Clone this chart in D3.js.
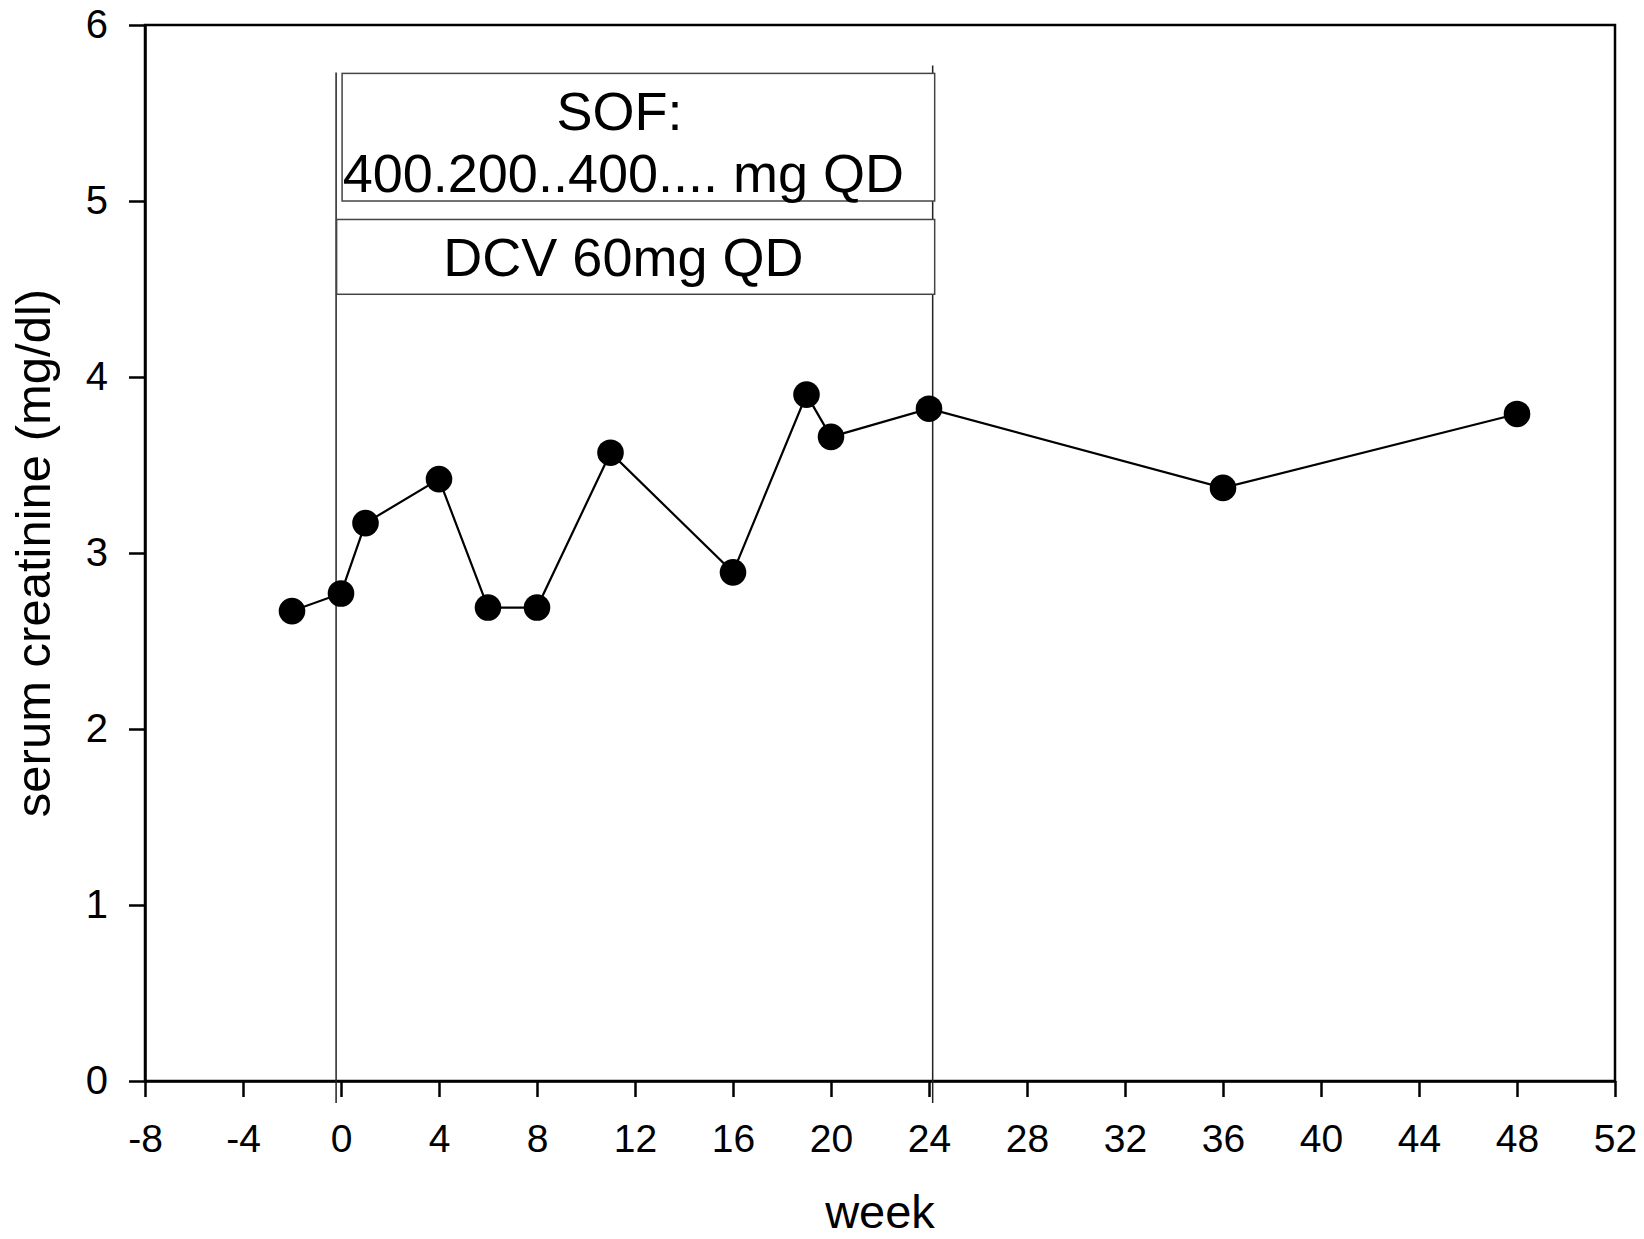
<!DOCTYPE html>
<html>
<head>
<meta charset="utf-8">
<script src="https://cdn.jsdelivr.net/npm/d3@7"></script>
<style>
  body { margin: 0; background: #fff; }
  text { font-family: "Liberation Sans", Arial, sans-serif; fill: #000; }
</style>
</head>
<body>
<div id="chart"></div>
<script>
// data
var weeks = [-2, 0, 1, 4, 6, 8, 11, 16, 19, 20, 24, 36, 48];
var creatinine = [2.67, 2.77, 3.17, 3.42, 2.69, 2.69, 3.57, 2.89, 3.90, 3.66, 3.82, 3.37, 3.79];
var xTicks = [-8, -4, 0, 4, 8, 12, 16, 20, 24, 28, 32, 36, 40, 44, 48, 52];
var yTicks = [0, 1, 2, 3, 4, 5, 6];
var treatment = [-0.2, 24.15];   // start / end of therapy (weeks)
var sofLabel = ["SOF:", "400.200..400.... mg QD"];
var dcvLabel = ["DCV 60mg QD"];

var margin = {top: 25, right: 29, bottom: 158, left: 145},
    width = 1644 - margin.left - margin.right,
    height = 1239 - margin.top - margin.bottom;

var svg = d3.select("#chart")
  .append("svg")
    .attr("width", 1644)
    .attr("height", 1239)
  .append("g")
    .attr("transform", "translate(" + margin.left + "," + margin.top + ")");

var x = d3.scaleLinear().domain([-8, 52]).range([0, width]);
var y = d3.scaleLinear().domain([0, 6]).range([height, 0]);

// frame
svg.append("rect")
  .attr("x", 0).attr("y", 0)
  .attr("width", width).attr("height", height)
  .style("fill", "none")
  .style("stroke", "#000")
  .style("stroke-width", 2.5);

// axes (plain hyphen for negatives, like the original)
var fmt = function(d) { return String(d); };
var xAxis = svg.append("g")
  .attr("transform", "translate(0," + height + ")")
  .call(d3.axisBottom(x).tickValues(xTicks).tickFormat(fmt)
    .tickSize(16).tickSizeOuter(0).tickPadding(27));
var yAxis = svg.append("g")
  .call(d3.axisLeft(y).tickValues(yTicks).tickFormat(fmt)
    .tickSize(16).tickSizeOuter(0).tickPadding(21));

[xAxis, yAxis].forEach(function(a) {
  a.selectAll("path.domain").style("stroke", "#000").style("stroke-width", 2.5);
  a.selectAll(".tick line").style("stroke", "#000").style("stroke-width", 2.5);
  a.selectAll(".tick text")
    .style("font-family", "'Liberation Sans', Arial, sans-serif")
    .style("font-size", "39px")
    .style("fill", "#000");
});
yAxis.selectAll(".tick text").style("font-size", "40px");

// treatment period lines
svg.append("g")
  .selectAll("line")
  .data(treatment)
  .enter()
  .append("line")
    .attr("x1", function(d) { return x(d); })
    .attr("x2", function(d) { return x(d); })
    .attr("y1", function(d, i) { return i === 0 ? y(5.73) : y(5.77); })
    .attr("y2", height + 22)
    .style("stroke", "#222")
    .style("stroke-width", 1.5);

// therapy boxes
var x0 = x(treatment[0]), x1 = x(treatment[1]);
svg.append("rect")
  .attr("x", x0 + 6).attr("y", y(5.725))
  .attr("width", x1 - x0 - 4).attr("height", y(5.0) - y(5.725))
  .style("fill", "#fff").style("stroke", "#444").style("stroke-width", 1.5);
svg.append("rect")
  .attr("x", x0 + 0.5).attr("y", y(4.895))
  .attr("width", x1 - x0 + 1.5).attr("height", y(4.47) - y(4.895))
  .style("fill", "#fff").style("stroke", "#444").style("stroke-width", 1.5);

var cx = (x0 + x1) / 2 - 11;
svg.append("g")
  .selectAll("text")
  .data(sofLabel)
  .enter()
  .append("text")
    .attr("x", function(d, i) { return i === 0 ? cx - 4 : cx; })
    .attr("y", function(d, i) { return i === 0 ? y(5.0) - 71 : y(5.0) - 9; })
    .attr("text-anchor", "middle")
    .style("font-size", "54px")
    .text(function(d) { return d; });
svg.append("text")
  .attr("x", cx)
  .attr("y", y(4.47) - 18)
  .attr("text-anchor", "middle")
  .style("font-size", "54px")
  .text(dcvLabel[0]);

// data line + markers
var pts = weeks.map(function(w, i) { return [w, creatinine[i]]; });
svg.append("path")
  .datum(pts)
  .attr("d", d3.line()
    .x(function(d) { return x(d[0]); })
    .y(function(d) { return y(d[1]); }))
  .style("fill", "none")
  .style("stroke", "#000")
  .style("stroke-width", 2.2);

svg.append("g")
  .selectAll("circle")
  .data(pts)
  .enter()
  .append("circle")
    .attr("cx", function(d) { return x(d[0]); })
    .attr("cy", function(d) { return y(d[1]); })
    .attr("r", 13.3)
    .style("fill", "#000");

// axis titles
svg.append("text")
  .attr("x", width / 2)
  .attr("y", 1228 - margin.top)
  .attr("text-anchor", "middle")
  .style("font-size", "47px")
  .text("week");

svg.append("text")
  .attr("transform", "translate(" + (50 - margin.left) + "," + (height / 2) + ") rotate(-90)")
  .attr("text-anchor", "middle")
  .style("font-size", "49px")
  .text("serum creatinine (mg/dl)");
</script>
</body>
</html>
